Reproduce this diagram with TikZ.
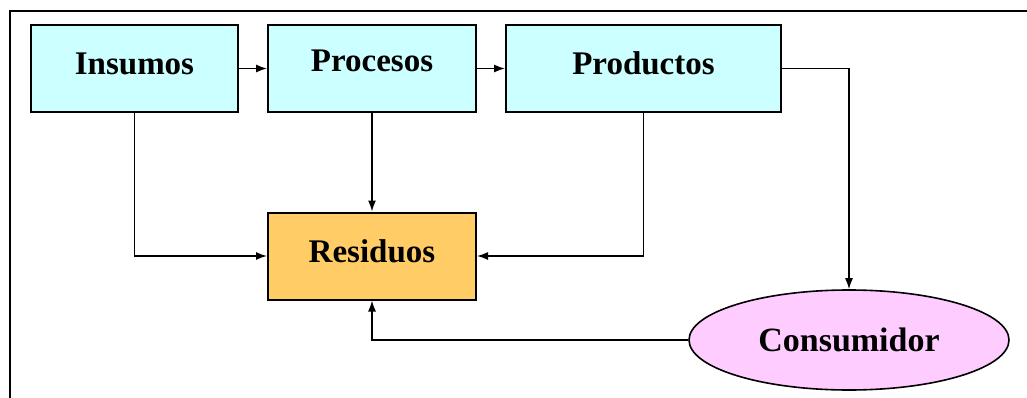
\documentclass[tikz,border=0pt]{standalone}
\usepackage{fontspec}
\setmainfont{Liberation Serif}
\usepackage{xcolor}
\usetikzlibrary{arrows.meta,shapes.geometric}

\definecolor{boxcyan}{HTML}{CCFFFF}
\definecolor{boxorange}{HTML}{FFCC66}
\definecolor{boxpink}{HTML}{FFCCFF}

\begin{document}
\begin{tikzpicture}[
            x=1pt, y=-1pt,
            >={Latex[length=11pt,width=8pt]},
            stage/.style={draw=black, line width=2pt, fill=boxcyan, inner sep=0pt, minimum height=87pt, text height=22pt, text depth=10pt, font=\fontsize{33}{36}\selectfont\bfseries},
            waste/.style={stage, fill=boxorange},
            consumer/.style={ellipse, draw=black, line width=1.6pt, fill=boxpink, inner sep=0pt, minimum width=320pt, minimum height=100pt, font=\fontsize{34}{36}\selectfont\bfseries},
            flow/.style={->, line width=1.4pt}
        ]

        \useasboundingbox (0,0) rectangle (1027,398);

        % Outer frame (runs off the right and bottom edges)
        \draw[line width=2pt] (1027,11) -- (10,11) -- (10,398);

        % Main chain
        \node[stage, minimum width=207pt] (ins) at (134.5,68.5) {Insumos};
        \node[stage, minimum width=208pt, text depth=16pt] (pro) at (372,68.5) {Procesos};
        \node[stage, minimum width=275pt] (prd) at (643.5,68.5) {Productos};

        % Waste and consumer
        \node[waste, minimum width=208pt] (res) at (372,256) {Residuos};
        \node[consumer] (con) at (849,340) {Consumidor};

        % Connections
        \draw[flow] (ins) -- (pro);
        \draw[flow] (pro) -- (prd);
        \draw[flow] (prd.east) -| (con.north);
        \draw[flow] (ins.south) |- (res.west);
        \draw[flow] (pro) -- (res);
        \draw[flow] (prd.south) |- (res.east);
        \draw[flow] (con.west) -| (res.south);

\end{tikzpicture}
\end{document}
